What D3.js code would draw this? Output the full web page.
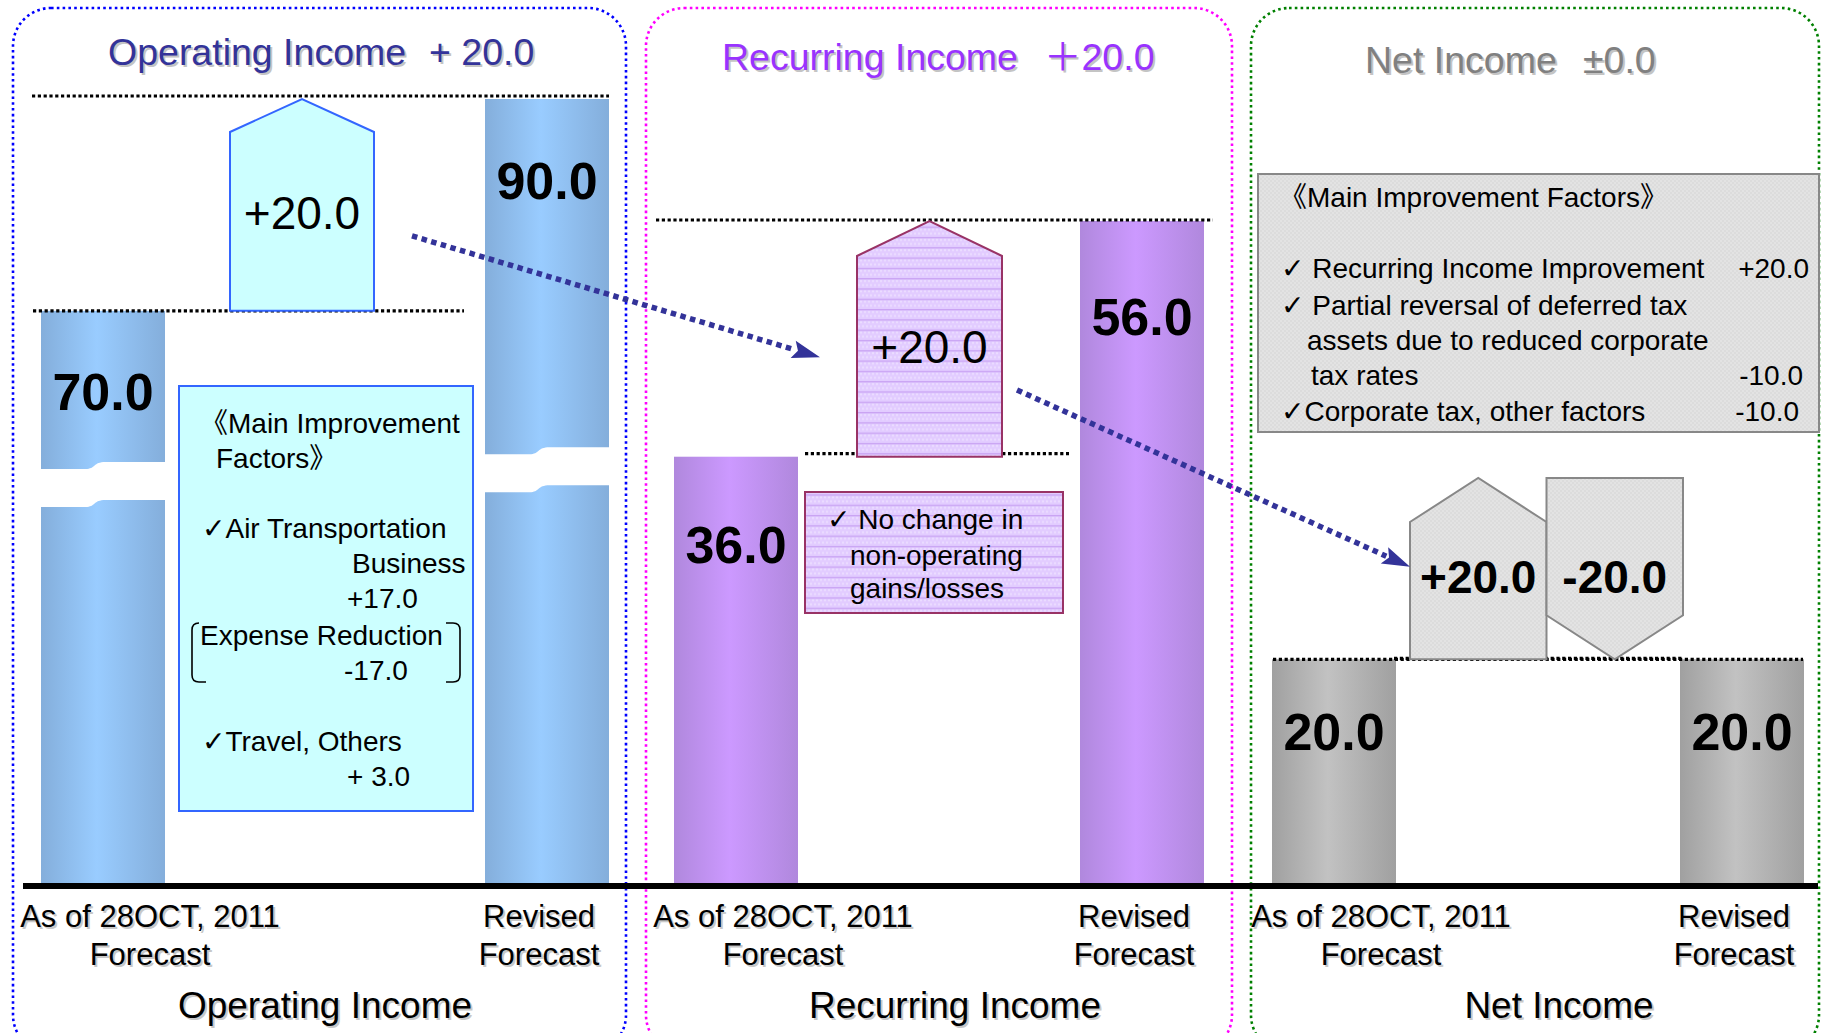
<!DOCTYPE html>
<html><head><meta charset="utf-8">
<script src="https://cdn.jsdelivr.net/npm/d3@7"></script>
<style>
html,body{margin:0;padding:0;background:#fff;}
svg{display:block;}
text{font-family:"Liberation Sans",Arial,"DejaVu Sans","Noto Sans CJK JP",sans-serif;}
</style>
</head><body>
<svg id="c" width="1821" height="1033"></svg>
<script>
// ---------------- DATA ----------------
const panelNames = ["Operating Income", "Recurring Income", "Net Income"];
const titleNames = ["Operating Income", "Recurring Income", "Net Income"];
const titleChanges = ["+ 20.0", "＋20.0", "±0.0"];
const categoryLabels = [["As of 28OCT, 2011", "Forecast"], ["Revised", "Forecast"]];
const operatingValues = [70.0, 90.0];
const recurringValues = [36.0, 56.0];
const netValues = [20.0, 20.0];
const operatingDeltas = [20.0];
const recurringDeltas = [20.0];
const netDeltas = [20.0, -20.0];
const operatingNotes = ["《Main Improvement", "Factors》", "✓Air Transportation", "Business", "+17.0",
  "Expense Reduction", "-17.0", "✓Travel, Others", "+ 3.0"];
const recurringNotes = ["✓ No change in", "non-operating", "gains/losses"];
const netNotes = ["《Main Improvement Factors》", "✓ Recurring Income Improvement", "+20.0",
  "✓ Partial reversal of deferred tax", "assets due to reduced corporate", "tax rates", "-10.0",
  "✓Corporate tax, other factors", "-10.0"];

// ---------------- LAYOUT / STYLE ----------------
const W = 1821, H = 1033, baseY = 886;
const layout = [
  { frame:[13,8,613,1045], frameColor:"#0000FF",
    title:{x:108, x2:429, y:65, color:"#333399"},
    xRange:[41,609], barW:124, yDomain:[15.8,90], yRange:[885,99],
    grad:"gBlue", breaks:[53.6,55.0], labelDy:[99,100],
    deltaRange:[230,374], shoulder:33, deltaFill:"#CCFFFF", deltaStroke:"#3366FF", deltaWeight:"normal",
    refLines:[[1,32,609,-3],[0,33,464,0]],
    box:[179,386,294,425], boxFill:"#CCFFFF", boxStroke:"#3366FF",
    notePos:[[21,47,"start"],[37,82,"start"],[23,152,"start"],[173,187,"start"],[168,222,"start"],
             [21,259,"start"],[165,294,"start"],[23,365,"start"],[168,400,"start"]],
    bracket:true, nameX:325 },
  { frame:[646,8,586,1045], frameColor:"#FF00FF",
    title:{x:722, x2:1044, y:70, color:"#9933FF"},
    xRange:[674,1204], barW:124, yDomain:[0,56], yRange:[881,221],
    grad:"gPurple", breaks:[], labelDy:[106,114],
    deltaRange:[857,1002], shoulder:35, deltaFill:"url(#pLav)", deltaStroke:"#993366", deltaWeight:"normal",
    refLines:[[1,656,1213,-1],[0,805,1069,-3]],
    box:[805,492,258,121], boxFill:"url(#pLav)", boxStroke:"#993366",
    notePos:[[22,37,"start"],[45,73,"start"],[45,106,"start"]],
    bracket:false, nameX:955 },
  { frame:[1251,8,568,1045], frameColor:"#008000",
    title:{x:1365, x2:1583, y:73, color:"#808080"},
    xRange:[1272,1804], barW:124, yDomain:[-4.9,40], yRange:[885,478],
    grad:"gGrey", breaks:[], labelDy:[91,91],
    deltaRange:[1410,1683], shoulder:44, deltaFill:"url(#pGrey)", deltaStroke:"#888888", deltaWeight:"bold",
    refLines:[[1,1394,1683,-1],[0,1273,1803,0]],
    box:[1258,174,561,258], boxFill:"url(#pGrey)", boxStroke:"#888888",
    notePos:[[21,33,"start"],[23,104,"start"],[551,104,"end"],[23,141,"start"],[49,176,"start"],
             [53,211,"start"],[545,211,"end"],[23,247,"start"],[541,247,"end"]],
    bracket:false, nameX:1559 }
];
const arrowsLayout = [
  {from:0, to:1, fromFrac:0.646, toFrac:0.578, fromDx:38, toDx:-37},
  {from:1, to:2, fromFrac:0.717, toFrac:0.49, fromDx:15, toDx:0}
];

const panels = [
  {name:panelNames[0], title:titleNames[0], change:titleChanges[0], values:operatingValues, deltas:operatingDeltas, notes:operatingNotes},
  {name:panelNames[1], title:titleNames[1], change:titleChanges[1], values:recurringValues, deltas:recurringDeltas, notes:recurringNotes},
  {name:panelNames[2], title:titleNames[2], change:titleChanges[2], values:netValues, deltas:netDeltas, notes:netNotes}
];

const fmtVal = d3.format(".1f");
const loc = d3.formatLocale({decimal:".", thousands:",", grouping:[3], currency:["",""], minus:"-"});
const fmtDelta = loc.format("+.1f");

// ---------------- SVG ----------------
const svg = d3.select("#c");
const defs = svg.append("defs");
function grad(id, edge, mid){
  const g = defs.append("linearGradient").attr("id", id)
    .attr("x1","0%").attr("x2","100%").attr("y1","0%").attr("y2","0%");
  g.append("stop").attr("offset","0%").attr("stop-color", edge);
  g.append("stop").attr("offset","45%").attr("stop-color", mid);
  g.append("stop").attr("offset","100%").attr("stop-color", edge);
}
grad("gBlue", "#84AEDB", "#99CCFF");
grad("gPurple", "#B088DD", "#CC99FF");
grad("gGrey", "#A0A0A0", "#C2C2C2");

const pl = defs.append("pattern").attr("id","pLav").attr("patternUnits","userSpaceOnUse")
  .attr("width",4).attr("height",10.3);
pl.append("rect").attr("width",4).attr("height",10.3).attr("fill","#E2CCFF");
pl.append("rect").attr("x",0).attr("y",2).attr("width",2).attr("height",2).attr("fill","#EBDCFF");
pl.append("rect").attr("x",2).attr("y",6).attr("width",2).attr("height",2).attr("fill","#EBDCFF");
pl.append("rect").attr("y",0).attr("width",4).attr("height",1.3).attr("fill","#C9A3F3");

const pg = defs.append("pattern").attr("id","pGrey").attr("patternUnits","userSpaceOnUse")
  .attr("width",4).attr("height",4);
pg.append("rect").attr("width",4).attr("height",4).attr("fill","#DCDCDC");
pg.append("rect").attr("width",2).attr("height",2).attr("fill","#E3E3E3");
pg.append("rect").attr("x",2).attr("y",2).attr("width",2).attr("height",2).attr("fill","#E3E3E3");

// frames
panels.forEach((p, i) => {
  const L = layout[i];
  svg.append("rect").attr("x", L.frame[0]).attr("y", L.frame[1])
    .attr("width", L.frame[2]).attr("height", L.frame[3]).attr("rx", 38).attr("ry", 38)
    .attr("fill","none").attr("stroke", L.frameColor).attr("stroke-width", 2.6)
    .attr("stroke-dasharray","2.6,3.2");
});

function shadowText(g, x, y, str, size, color, anchor, shadow){
  g.append("text").attr("x", x+2).attr("y", y+2).attr("font-size", size)
    .attr("text-anchor", anchor).attr("fill", shadow).text(str);
  g.append("text").attr("x", x).attr("y", y).attr("font-size", size)
    .attr("text-anchor", anchor).attr("fill", color).text(str);
}

const geom = [];

panels.forEach((p, i) => {
  const L = layout[i];
  const g = svg.append("g");
  const x = d3.scaleBand().domain(d3.range(p.values.length)).range(L.xRange)
    .paddingInner(1 - L.barW / (L.xRange[1] - L.xRange[0] - L.barW)).paddingOuter(0);
  const y = d3.scaleLinear().domain(L.yDomain).range(L.yRange);

  // title
  shadowText(g, L.title.x, L.title.y, p.title, 37.5, L.title.color, "start", "#C4C4C4");
  shadowText(g, L.title.x2, L.title.y, p.change, 37.5, L.title.color, "start", "#C4C4C4");

  // bars
  g.selectAll("rect.bar").data(p.values).join("rect").attr("class","bar")
    .attr("x", (d, j) => x(j)).attr("width", x.bandwidth())
    .attr("y", d => y(d)).attr("height", d => baseY - y(d))
    .attr("fill", `url(#${L.grad})`);

  // axis breaks
  L.breaks.forEach((bv, j) => {
    const x0 = x(j), w = x.bandwidth(), x1 = x0 + w, yc = y(bv), h = 19, a = 3.5;
    const path = `M${x0-1},${yc-h+a} L${x0+0.36*w},${yc-h+a} C${x0+0.44*w},${yc-h+a} ${x0+0.42*w},${yc-h-a} ${x0+0.52*w},${yc-h-a} L${x1+1},${yc-h-a} L${x1+1},${yc+h-a} L${x0+0.52*w},${yc+h-a} C${x0+0.42*w},${yc+h-a} ${x0+0.44*w},${yc+h+a} ${x0+0.36*w},${yc+h+a} L${x0-1},${yc+h+a} Z`;
    g.append("path").attr("d", path).attr("fill","#fff");
  });

  // reference dotted lines
  L.refLines.forEach(r => {
    const yy = y(p.values[r[0]]) + r[3];
    g.append("line").attr("x1", r[1]).attr("x2", r[2]).attr("y1", yy).attr("y2", yy)
      .attr("stroke","#000").attr("stroke-width",3.2).attr("stroke-dasharray","3.2,2.6");
  });

  // delta shapes
  const xd = d3.scaleBand().domain(d3.range(p.deltas.length)).range(L.deltaRange).padding(0);
  let cum = p.values[0];
  const shapes = [];
  p.deltas.forEach((d, j) => {
    const s = cum, e = cum + d; cum = e;
    const x0 = xd(j), x1 = x0 + xd.bandwidth(), xm = (x0 + x1) / 2;
    let pts;
    if (d >= 0) {
      pts = [[x0, y(s)], [x0, y(e) + L.shoulder], [xm, y(e)], [x1, y(e) + L.shoulder], [x1, y(s)]];
    } else {
      pts = [[x0, y(s)], [x1, y(s)], [x1, y(e) - L.shoulder], [xm, y(e)], [x0, y(e) - L.shoulder]];
    }
    g.append("path").attr("d", d3.line()(pts) + "Z")
      .attr("fill", L.deltaFill).attr("stroke", L.deltaStroke).attr("stroke-width", 2);
    const top = Math.min(y(s), y(e)), bot = Math.max(y(s), y(e));
    g.append("text").attr("x", xm).attr("y", (top + bot) / 2 + 24)
      .attr("text-anchor","middle").attr("font-size", 46).attr("font-weight", L.deltaWeight)
      .attr("fill","#000").text(fmtDelta(d));
    shapes.push({x0, x1, top, bot});
  });
  geom.push(shapes);

  // bar value labels
  g.selectAll("text.val").data(p.values).join("text").attr("class","val")
    .attr("x", (d, j) => x(j) + x.bandwidth() / 2).attr("y", (d, j) => y(d) + L.labelDy[j])
    .attr("text-anchor","middle").attr("font-size", 52).attr("font-weight","bold")
    .attr("fill","#000").text(d => fmtVal(d));

  // notes box
  const [bx, by, bw, bh] = L.box;
  g.append("rect").attr("x", bx).attr("y", by).attr("width", bw).attr("height", bh)
    .attr("fill", L.boxFill).attr("stroke", L.boxStroke).attr("stroke-width", 2);
  p.notes.forEach((t, k) => {
    const np = L.notePos[k];
    g.append("text").attr("x", bx + np[0]).attr("y", by + np[1]).attr("text-anchor", np[2])
      .attr("font-size", 28).attr("fill","#000").text(t);
  });
  if (L.bracket) {
    const bl = bx + 13, br = bx + 281, bt = by + 237, bb = by + 296;
    g.append("path").attr("d", `M${bl+7},${bt} Q${bl},${bt} ${bl},${bt+7} L${bl},${bb-7} Q${bl},${bb} ${bl+7},${bb} L${bl+14},${bb}`)
      .attr("fill","none").attr("stroke","#000").attr("stroke-width",1.6);
    g.append("path").attr("d", `M${br-14},${bt} L${br-7},${bt} Q${br},${bt} ${br},${bt+7} L${br},${bb-7} Q${br},${bb} ${br-7},${bb} L${br-14},${bb}`)
      .attr("fill","none").attr("stroke","#000").attr("stroke-width",1.6);
  }

  // category labels
  const catOff = [47, -8];
  categoryLabels.forEach((lines, j) => {
    const cx = x(j) + x.bandwidth() / 2 + catOff[j];
    lines.forEach((t, k) => {
      shadowText(g, cx, 927 + k * 38, t, 31, "#000", "middle", "#C8C8C8");
    });
  });
  shadowText(g, L.nameX, 1018, p.name, 37, "#000", "middle", "#C8C8C8");
});

// arrows
arrowsLayout.forEach(a => {
  const s = geom[a.from][0], t = geom[a.to][0];
  const sx = s.x1 + a.fromDx, sy = s.top + (s.bot - s.top) * a.fromFrac;
  const tx = t.x0 + a.toDx, ty = t.top + (t.bot - t.top) * a.toFrac;
  const dx = tx - sx, dy = ty - sy, len = Math.hypot(dx, dy), ux = dx / len, uy = dy / len;
  const Lh = 28, Wh = 9;
  const bx = tx - ux * Lh, by = ty - uy * Lh;
  svg.append("line").attr("x1", sx).attr("y1", sy).attr("x2", bx + ux * 2).attr("y2", by + uy * 2)
    .attr("stroke","#333399").attr("stroke-width",5.5).attr("stroke-dasharray","5.5,4.5");
  svg.append("path").attr("d", d3.line()([[tx, ty], [bx - uy * Wh, by + ux * Wh], [bx + ux * 5, by + uy * 5], [bx + uy * Wh, by - ux * Wh]]) + "Z")
    .attr("fill","#333399");
});

// baseline axis
svg.append("line").attr("x1", 23).attr("x2", 1818).attr("y1", baseY).attr("y2", baseY)
  .attr("stroke","#000").attr("stroke-width", 6);
</script>
</body></html>
